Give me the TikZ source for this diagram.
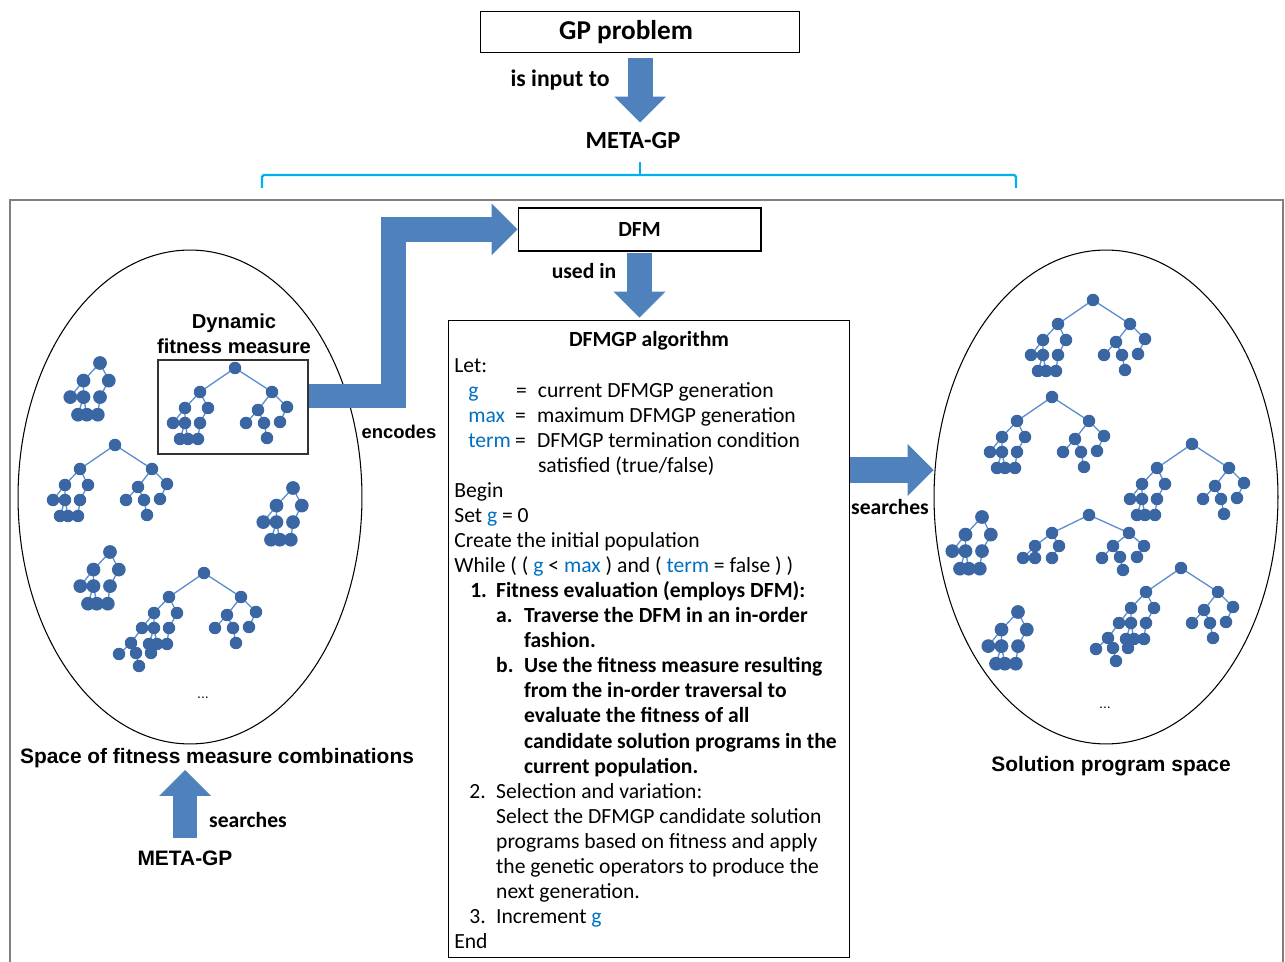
\documentclass[tikz,border=0pt]{standalone}
\usepackage{fontspec}
\setmainfont{Carlito}
\newfontfamily\arialfont{Liberation Sans}
\usepackage{xcolor}
\definecolor{arrow-blue}{HTML}{4F81BD}
\definecolor{tree-blue}{HTML}{3A66A3}
\definecolor{edge-blue}{HTML}{5B8DD0}
\definecolor{brace-cyan}{HTML}{00B0F0}
\definecolor{var-blue}{HTML}{0070C0}
\usetikzlibrary{arrows.meta}
\usetikzlibrary{shapes.geometric}
\tikzset{box/.style = {draw, align=center, text centered, inner sep=0pt}}
\tikzset{blockarr/.style = {line width=0.5cm, arrow-blue, line join=miter, -{Triangle[width=1.04cm, length=0.52cm, line width=0pt]}}}
\tikzset{lbl/.style = {inner sep=0pt, font=\bfseries\fontsize{12.3}{14.2}\selectfont}}
\tikzset{albl/.style = {inner sep=0pt, align=center, font=\arialfont\bfseries\fontsize{11.9}{14.2}\selectfont}}
\tikzset{space/.style = {draw, ellipse, minimum width=6.88cm, minimum height=9.88cm, line width=0.6pt}}
\tikzset{tedge/.style = {edge-blue, line width=0.75pt}}
\newdimen\pxu \pxu=0.5669pt
\newcommand{\gpvar}[1]{\textcolor{var-blue}{#1}}

% trees: lsub/rsub are the two halves, bigtree joins them under a root
\tikzset{
  pics/lsub/.style = {code = {
    \draw[tedge] (0,0) -- (-15,16) -- (-27,31) (-15,16) -- (-15,31) -- (-20,47) (-15,31) -- (-12,47)
      (0,0) -- (8,16) -- (0,31) -- (-2,47);
    \foreach \x/\y in {0/0, -15/16, 8/16, -27/31, -15/31, 0/31, -20/47, -12/47, -2/47}
      \fill[tree-blue] (\x,\y) circle[radius=0.125cm];
  }},
  pics/lsubx/.style = {code = {
    \draw[tedge] (-27,31) -- (-38,46) -- (-50,57) (-38,46) -- (-33,56) -- (-30,69) (-20,47) -- (-18,56);
    \pic {lsub};
    \foreach \x/\y in {-38/46, -50/57, -33/56, -18/56, -30/69}
      \fill[tree-blue] (\x,\y) circle[radius=0.125cm];
  }},
  pics/rsub/.style = {code = {
    \draw[tedge] (0,0) -- (-14,18) -- (-26,31) (-14,18) -- (-8,31) -- (-5,46) (0,0) -- (15,15) -- (8,30);
    \foreach \x/\y in {0/0, -14/18, 15/15, -26/31, -8/31, 8/30, -5/46}
      \fill[tree-blue] (\x,\y) circle[radius=0.125cm];
  }},
  pics/bigtree/.style = {code = {
    \draw[tedge] (0,0) -- (-35,24) (0,0) -- (37,24);
    \pic at (-35,24) {#1};
    \pic at (37,24) {rsub};
    \fill[tree-blue] (0,0) circle[radius=0.125cm];
  }},
  pics/bigtree/.default = lsub,
  pics/flattree/.style = {code = {
    \draw[tedge] (0,0) -- (-37,18) -- (-54,31) -- (-66,43) (-54,31) -- (-54,43)
      (-37,18) -- (-30,31) -- (-37,43)
      (0,0) -- (40,18) -- (24,31) -- (13,43) (24,31) -- (31,42) -- (34,55)
      (40,18) -- (55,31) -- (48,42);
    \foreach \x/\y in {0/0, -37/18, 40/18, -54/31, -30/31, -66/43, -54/43, -37/43,
                       24/31, 55/31, 13/43, 31/42, 48/42, 34/55}
      \fill[tree-blue] (\x,\y) circle[radius=0.125cm];
  }}
}

\begin{document}
\begin{tikzpicture}[x=0.02cm, y=-0.02cm]
\useasboundingbox (0,0) rectangle (1285,962);

% top part
\node[box, minimum width=6.38cm, minimum height=0.82cm, line width=0.9pt,
  font=\bfseries\fontsize{15.5}{18}\selectfont] (gp) at (640,32) {GP problem\hspace*{28\pxu}};
\node[lbl, font=\bfseries\fontsize{14}{16}\selectfont] (metagp) at (633,141) {META-GP};
\node[lbl, font=\bfseries\fontsize{13.5}{16}\selectfont] (isinput) at (560,80) {is input to};
\draw[blockarr, shorten <=0.1cm, shorten >=0.2cm] (gp.south) -- (gp.south |- metagp.north);

% brace and frame
\draw[brace-cyan, line width=1.3pt, rounded corners=1pt] (262,188) |- (1016,175) -- (1016,188);
\draw[brace-cyan, line width=1.3pt] (640,175) -- (640,162);
\draw[gray, line width=1.2pt] (10,200) rectangle (1283,980);

% left space
\node[space] (fitspace) at (190,497) {};
\node[albl, font=\arialfont\bfseries\fontsize{11.5}{14.2}\selectfont] (dfmlabel) at (234,334) {Dynamic\\fitness measure};
\node[box, minimum width=3cm, minimum height=1.88cm, line width=0.8pt, draw=black!80] (dfmtree) at (233,407) {};
\pic at (100,363) [scale=1.1] {lsub};
\pic at (235,368) {bigtree};
\pic at (115,445) {bigtree};
\pic at (293,488) [scale=1.1] {lsub};
\pic at (110,552) [scale=1.1] {lsub};
\pic at (204,573) {bigtree=lsubx};
\node[inner sep=0pt, font=\arialfont\fontsize{8}{8}\selectfont] (ldots) at (203,698) {...};
\node[albl] (spacelabel) at (217,758) {Space of fitness measure combinations};
\node[albl] (metagpb) at (185,858) {META-GP};
\node[lbl] (searchb) at (248,820) {searches};
\coordinate (tipb) at (0,770);
\draw[blockarr, shorten <=0.24cm] (metagpb.north) -- (metagpb.north |- tipb);

% DFM and the algorithm
\node[box, minimum width=4.86cm, minimum height=0.86cm, line width=0.6pt,
  font=\bfseries\fontsize{12.3}{14.2}\selectfont] (dfm) at (639.5,229.5) {DFM};
\node[albl, font=\arialfont\bfseries\fontsize{10.5}{12}\selectfont] (encodes) at (399,432) {encodes};
\draw[blockarr] ([yshift=0.22cm]dfmtree.east) -- ++(85,0) |- (dfm.west);
\node[lbl] (usedin) at (584,271) {used in};
\node[box, minimum width=8.04cm, minimum height=12.76cm, line width=0.6pt] (algobox) at (649,639) {};
\draw[blockarr, shorten <=0.02cm, shorten >=0.04cm] (dfm.south) -- (dfm.south |- algobox.north);
\node[lbl] (algotitle) at (649,341) {DFMGP algorithm};
\node[inner sep=0pt, anchor=north west, align=left, font=\fontsize{12.3}{14.26}\selectfont] (algotext) at (454,358) {%
Let:\\
\hspace*{14\pxu}\makebox[48\pxu][l]{\gpvar{g}}\makebox[22\pxu][l]{=}current DFMGP generation\\
\hspace*{14\pxu}\makebox[47\pxu][l]{\gpvar{max}}\makebox[22\pxu][l]{=}maximum DFMGP generation\\
\hspace*{14\pxu}\makebox[47\pxu][l]{\gpvar{term}}\makebox[22\pxu][l]{=}DFMGP termination condition\\
\hspace*{84\pxu}satisfied (true/false)\\
Begin\\
Set \gpvar{g} = 0\\
Create the initial population\\
While ( ( \gpvar{g} < \gpvar{max} ) and ( \gpvar{term} = false ) )\\
\hspace*{16\pxu}\makebox[26\pxu][l]{\textbf{1.}}\textbf{Fitness evaluation (employs DFM):}\\
\hspace*{42\pxu}\makebox[28\pxu][l]{\textbf{a.}}\textbf{Traverse the DFM in an in-order}\\
\hspace*{70\pxu}\textbf{fashion.}\\
\hspace*{42\pxu}\makebox[28\pxu][l]{\textbf{b.}}\textbf{Use the fitness measure resulting}\\
\hspace*{70\pxu}\textbf{from the in-order traversal to}\\
\hspace*{70\pxu}\textbf{evaluate the fitness of all}\\
\hspace*{70\pxu}\textbf{candidate solution programs in the}\\
\hspace*{70\pxu}\textbf{current population.}\\
\hspace*{15\pxu}\makebox[27\pxu][l]{2.}Selection and variation:\\
\hspace*{42\pxu}Select the DFMGP candidate solution\\
\hspace*{42\pxu}programs based on fitness and apply\\
\hspace*{42\pxu}the genetic operators to produce the\\
\hspace*{42\pxu}next generation.\\
\hspace*{15\pxu}\makebox[27\pxu][l]{3.}Increment \gpvar{g}\\
End};

% right space
\node[space] (solspace) at (1106,497) {};
\coordinate (sr) at (0,470);
\draw[blockarr, line width=0.52cm] (algobox.east |- sr) -- (sr -| solspace.west);
\node[lbl] (searchr) at (890,507) {searches};
\pic at (1093,300) {bigtree};
\pic at (1052,397) {bigtree};
\pic at (1192,444) {bigtree};
\pic at (982,517) [scale=1.1] {lsub};
\pic at (1089,515) {flattree};
\pic at (1018,612) [scale=1.1] {lsub};
\pic at (1181,568) {bigtree=lsubx};
\node[inner sep=0pt, font=\arialfont\fontsize{8}{8}\selectfont] (rdots) at (1105,708) {...};
\node[albl] (sollabel) at (1111,766) {Solution program space};
\end{tikzpicture}
\end{document}
